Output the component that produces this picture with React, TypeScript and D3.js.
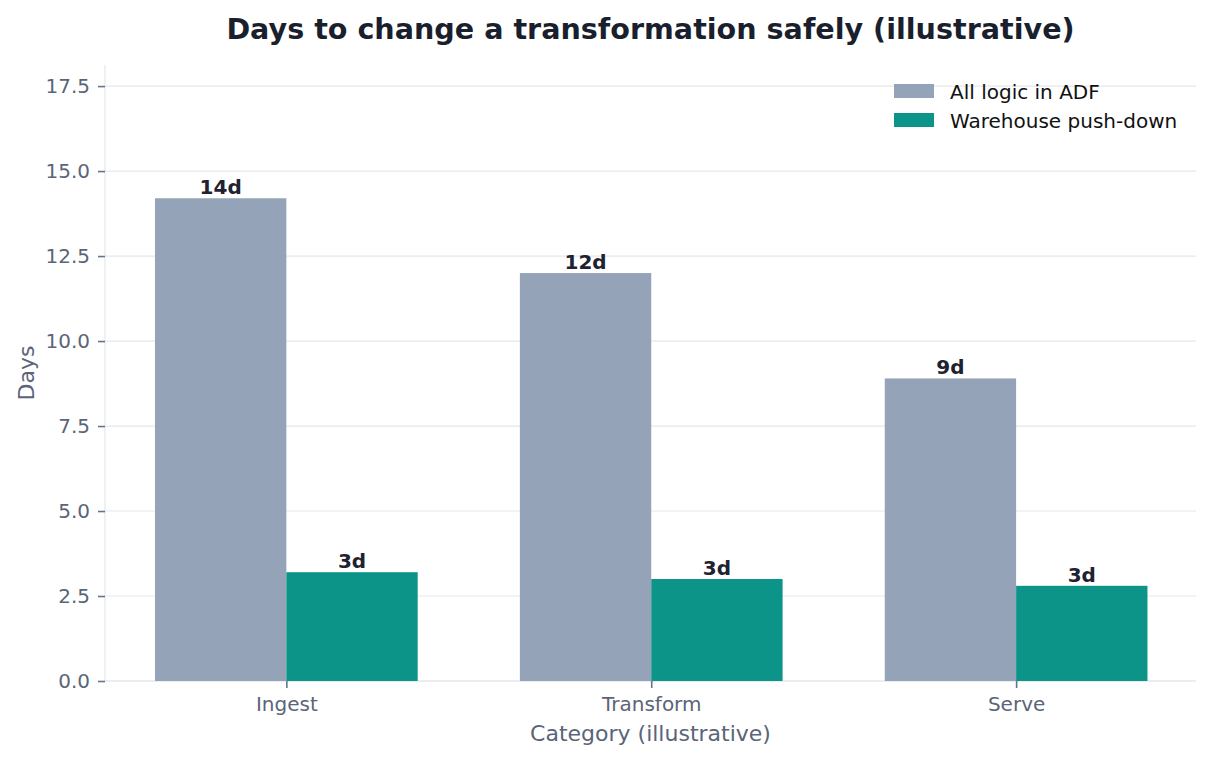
import React, { useEffect, useRef } from 'react';
import * as d3 from 'd3';

// Days needed to change a transformation, per pipeline stage
const categories = ['Ingest', 'Transform', 'Serve'];
const seriesNames = ['All logic in ADF', 'Warehouse push-down'];
const adfDays = [14.2, 12.0, 8.9];
const pushDownDays = [3.2, 3.0, 2.8];
const yTicks = [0, 2.5, 5, 7.5, 10, 12.5, 15, 17.5];

const COLORS = ['#94a3b8', '#0d9488'];
const FONT = '"DejaVu Sans", sans-serif';

export default function App() {
  const svgRef = useRef<SVGSVGElement>(null);
  const width = 1212;
  const height = 760;

  useEffect(() => {
    const svg = d3.select(svgRef.current);
    svg.selectAll('*').remove();

    const margin = { top: 65, right: 16, bottom: 79, left: 105 };
    const innerWidth = width - margin.left - margin.right;
    const innerHeight = height - margin.top - margin.bottom;

    const g = svg.append('g').attr('transform', `translate(${margin.left},${margin.top})`);

    // Continuous x so bar offsets match a grouped layout (xlim -0.5..2.5)
    const x = d3.scaleLinear().domain([-0.497, categories.length - 0.507]).range([0, innerWidth]);
    const y = d3.scaleLinear().domain([0, 18.12]).range([innerHeight, 0]);
    const barW = 0.36;

    // Gridlines
    g.append('g')
      .selectAll('line')
      .data(yTicks)
      .enter()
      .append('line')
      .attr('x1', 0)
      .attr('x2', innerWidth)
      .attr('y1', d => y(d))
      .attr('y2', d => y(d))
      .attr('stroke', '#e5e7eb')
      .attr('stroke-width', 1.2);

    // Spines (left and bottom only)
    g.append('line')
      .attr('x1', 0).attr('x2', 0).attr('y1', 0).attr('y2', innerHeight)
      .attr('stroke', '#e5e7eb').attr('stroke-width', 1.2);
    g.append('line')
      .attr('x1', 0).attr('x2', innerWidth).attr('y1', innerHeight).attr('y2', innerHeight)
      .attr('stroke', '#e5e7eb').attr('stroke-width', 1.2);

    // Y axis
    const yAxis = d3.axisLeft(y).tickValues(yTicks).tickFormat(d3.format('.1f')).tickSize(7).tickPadding(8);
    const yg = g.append('g').call(yAxis);
    yg.select('.domain').remove();
    yg.selectAll('line').attr('stroke', '#64748b').attr('stroke-width', 1.6);
    yg.selectAll('text').style('font-family', FONT).style('font-size', '20px').attr('fill', '#5b6478');

    // X axis
    const xAxis = d3.axisBottom(x).tickValues(categories.map((_, i) => i))
      .tickFormat((d) => categories[d as number]).tickSize(7).tickPadding(9);
    const xg = g.append('g').attr('transform', `translate(0,${innerHeight})`).call(xAxis);
    xg.select('.domain').remove();
    xg.selectAll('line').attr('stroke', '#64748b').attr('stroke-width', 1.6);
    xg.selectAll('text').style('font-family', FONT).style('font-size', '20px').attr('fill', '#5b6478');

    // Bars with value labels
    const series = [adfDays, pushDownDays];
    series.forEach((values, si) => {
      const offset = si === 0 ? -barW : 0;
      g.selectAll(`.bar-${si}`)
        .data(values)
        .enter()
        .append('rect')
        .attr('class', `bar-${si}`)
        .attr('x', (_, i) => x(i + offset))
        .attr('width', x(barW) - x(0))
        .attr('y', d => y(d))
        .attr('height', d => innerHeight - y(d))
        .attr('fill', COLORS[si]);

      g.selectAll(`.label-${si}`)
        .data(values)
        .enter()
        .append('text')
        .attr('class', `label-${si}`)
        .attr('x', (_, i) => x(i + offset + barW / 2))
        .attr('y', d => y(d) - 4)
        .attr('text-anchor', 'middle')
        .style('font-family', FONT)
        .style('font-size', '20px')
        .style('font-weight', 'bold')
        .attr('fill', '#1e2231')
        .text(d => `${Math.round(d)}d`);
    });

    // Axis labels
    g.append('text')
      .attr('transform', 'rotate(-90)')
      .attr('x', -innerHeight / 2)
      .attr('y', -margin.left + 34)
      .attr('text-anchor', 'middle')
      .style('font-family', FONT)
      .style('font-size', '22px')
      .attr('fill', '#5b6478')
      .text('Days');

    g.append('text')
      .attr('x', innerWidth / 2)
      .attr('y', innerHeight + 60)
      .attr('text-anchor', 'middle')
      .style('font-family', FONT)
      .style('font-size', '22px')
      .attr('fill', '#5b6478')
      .text('Category (illustrative)');

    // Title
    svg.append('text')
      .attr('x', margin.left + innerWidth / 2)
      .attr('y', 39)
      .attr('text-anchor', 'middle')
      .style('font-family', FONT)
      .style('font-size', '28.6px')
      .style('font-weight', 'bold')
      .attr('fill', '#1a1f2e')
      .text('Days to change a transformation safely (illustrative)');

    // Legend
    const legend = svg.append('g').attr('transform', 'translate(894, 84)');
    const items = legend.selectAll('.legend-item')
      .data(seriesNames)
      .enter()
      .append('g')
      .attr('class', 'legend-item')
      .attr('transform', (_, i) => `translate(0, ${i * 29})`);
    items.append('rect')
      .attr('width', 40)
      .attr('height', 14)
      .attr('fill', (_, i) => COLORS[i]);
    items.append('text')
      .attr('x', 56)
      .attr('y', 15)
      .style('font-family', FONT)
      .style('font-size', '20px')
      .attr('fill', '#111111')
      .text(d => d);
  }, []);

  return (
    <svg
      ref={svgRef}
      width={width}
      height={height}
      style={{ position: 'absolute', left: 0, top: 0, background: '#ffffff' }}
    />
  );
}
